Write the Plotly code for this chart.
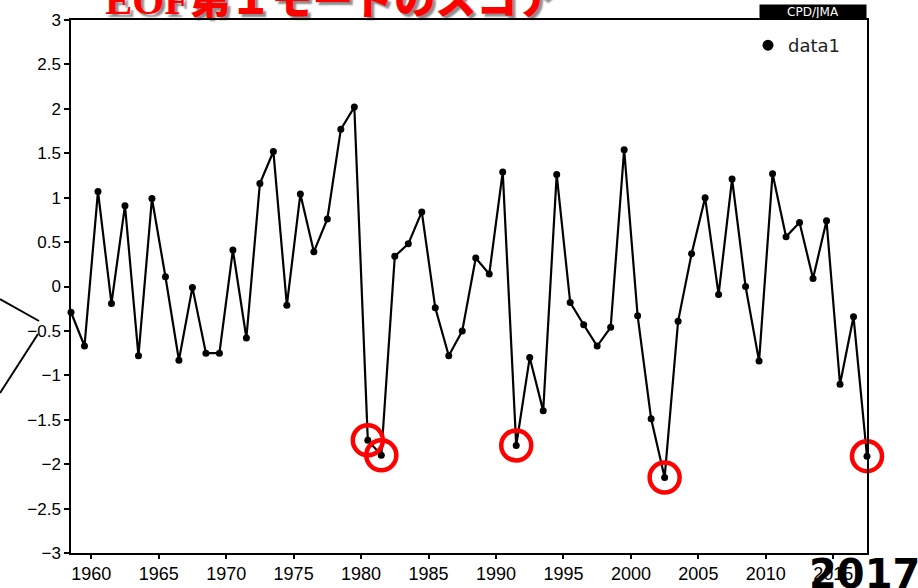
import plotly.graph_objects as go

years = list(range(1958, 2018))
scores = [
    -0.29, -0.67, 1.07, -0.19, 0.91, -0.78, 0.99, 0.11, -0.83, -0.01,
    -0.75, -0.75, 0.41, -0.58, 1.16, 1.52, -0.21, 1.04, 0.39, 0.76,
    1.77, 2.02, -1.73, -1.90, 0.34, 0.48, 0.84, -0.24, -0.78, -0.50,
    0.32, 0.14, 1.29, -1.79, -0.80, -1.40, 1.26, -0.18, -0.43, -0.67,
    -0.46, 1.54, -0.33, -1.49, -2.15, -0.39, 0.37, 1.00, -0.09, 1.21,
    0.00, -0.84, 1.27, 0.56, 0.72, 0.09, 0.74, -1.10, -0.34, -1.91,
]
highlight_years = [1980, 1981, 1991, 2002, 2017]
x_ticks = list(range(1960, 2016, 5))
y_ticks = [3, 2.5, 2, 1.5, 1, 0.5, 0, -0.5, -1, -1.5, -2, -2.5, -3]
y_tick_text = ["3", "2.5", "2", "1.5", "1", "0.5", "0", "\u22120.5", "\u22121", "\u22121.5", "\u22122", "\u22122.5", "\u22123"]

xpos = [y + 0.5 for y in years]
hx = [y + 0.5 for y in highlight_years]
hy = [scores[years.index(y)] for y in highlight_years]

W, H = 918, 588
ML, MR, MT, MB = 71, 51, 20, 35
PW, PH = W - ML - MR, H - MT - MB


def px(xp):
    return (xp - ML) / PW


def py(yp):
    return (H - MB - yp) / PH


fig = go.Figure()
fig.add_trace(go.Scatter(
    x=xpos, y=scores, mode="lines+markers",
    line=dict(color="black", width=2.2),
    marker=dict(color="black", size=7, symbol="circle"),
    showlegend=False, hoverinfo="x+y", cliponaxis=False,
))
fig.add_trace(go.Scatter(
    x=hx, y=hy, mode="markers", cliponaxis=False,
    marker=dict(symbol="circle-open", size=30, color="#ff0000", line=dict(width=4.5, color="#ff0000")),
    showlegend=False,
))
fig.add_trace(go.Scatter(
    x=[None], y=[None], mode="markers", name="data1",
    marker=dict(color="black", size=11, symbol="circle"),
))

fig.update_layout(
    width=W, height=H,
    margin=dict(l=ML, r=MR, t=MT, b=MB, autoexpand=False),
    paper_bgcolor="white", plot_bgcolor="white",
    font=dict(family="Liberation Sans, Arial, sans-serif", color="black"),
    legend=dict(x=px(748), y=py(27), xanchor="left", yanchor="top", bgcolor="rgba(0,0,0,0)",
                font=dict(size=18, color="#222", family="DejaVu Sans"),
                itemsizing="trace", borderwidth=0),
    xaxis=dict(range=[1958.5, 2017.5], tickmode="array", tickvals=x_ticks,
               ticktext=[str(t) for t in x_ticks], automargin=False,
               showgrid=False, zeroline=False, showline=True, linecolor="black", linewidth=1.5,
               mirror=True, ticks="outside", ticklen=4, tickwidth=1.5, tickcolor="black",
               tickfont=dict(size=18, family="Liberation Sans Narrow, Liberation Sans, Arial")),
    yaxis=dict(range=[-3, 3], tickmode="array", tickvals=y_ticks, ticktext=y_tick_text,
               automargin=False,
               showgrid=False, zeroline=False, showline=True, linecolor="black", linewidth=1.5,
               mirror=True, ticks="outside", ticklen=5, tickwidth=1.5, tickcolor="black",
               tickfont=dict(size=17)),
)

fig.add_annotation(
    text="EOF第１モードのスコア", xref="paper", yref="paper",
    x=px(103), y=1, xanchor="left", yanchor="bottom", yshift=-5, showarrow=False,
    font=dict(size=41, color="#ff0000", family="Liberation Serif, Noto Sans CJK JP",
              weight=900, shadow="3px 3px 2px rgba(0,0,0,0.45)"),
)
fig.add_annotation(
    text="CPD/JMA", xref="paper", yref="paper", x=1, y=1, xanchor="right", yanchor="bottom",
    showarrow=False, bgcolor="black", borderpad=1, width=104, height=12,
    font=dict(size=12, color="white", family="DejaVu Sans"),
)
fig.add_annotation(
    text="<b>2017</b>", xref="paper", yref="paper", x=px(807), y=0, xanchor="left", yanchor="top",
    yshift=4, showarrow=False,
    font=dict(size=40, color="black", family="DejaVu Sans"),
)

fig.add_shape(type="line", xref="paper", yref="paper", x0=px(0), y0=py(299), x1=px(39), y1=py(321),
              line=dict(color="black", width=2))
fig.add_shape(type="line", xref="paper", yref="paper", x0=px(0), y0=py(393), x1=px(38), y1=py(334),
              line=dict(color="black", width=2))

fig.write_html("out.html")
